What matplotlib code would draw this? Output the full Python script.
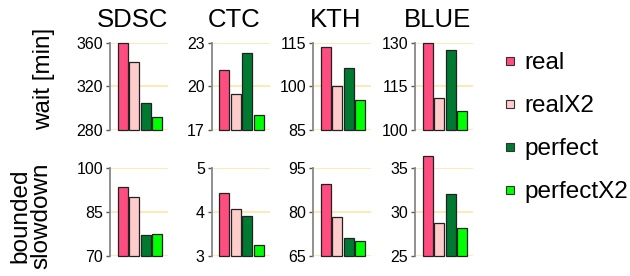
import matplotlib
matplotlib.use('Agg')
import matplotlib.pyplot as plt
from matplotlib.lines import Line2D

plt.rcParams['font.family'] = ['Liberation Sans', 'DejaVu Sans']

sites = ['SDSC', 'CTC', 'KTH', 'BLUE']
series = ['real', 'realX2', 'perfect', 'perfectX2']
colors = ['#FF4D80', '#FFCCCC', '#007A30', '#00FF00']

# wait [min], one list per site: real, realX2, perfect, perfectX2
wait_sdsc = [359.5, 342.6, 305.0, 292.2]
wait_ctc = [21.1, 19.45, 22.27, 18.0]
wait_kth = [113.4, 100.2, 106.2, 95.3]
wait_blue = [130.0, 110.9, 127.4, 106.4]

# bounded slowdown
bsld_sdsc = [93.3, 90.0, 77.1, 77.4]
bsld_ctc = [4.43, 4.07, 3.90, 3.24]
bsld_kth = [89.4, 78.1, 70.9, 70.1]
bsld_blue = [36.3, 28.7, 32.0, 28.1]

wait_ticks = [[280, 320, 360], [17, 20, 23], [85, 100, 115], [100, 115, 130]]
bsld_ticks = [[70, 85, 100], [3, 4, 5], [65, 80, 95], [25, 30, 35]]

rows = [
    ([wait_sdsc, wait_ctc, wait_kth, wait_blue], wait_ticks),
    ([bsld_sdsc, bsld_ctc, bsld_kth, bsld_blue], bsld_ticks),
]

W, H = 630, 276
fig = plt.figure(figsize=(W / 100, H / 100), dpi=100)

lefts = [110, 211.7, 313.3, 415]
aw = 58
row_box = [(42.7, 130), (167.7, 255.7)]  # top, bottom in px

for r, (vals, ticks) in enumerate(rows):
    top, bot = row_box[r]
    for c in range(4):
        ax = fig.add_axes([lefts[c] / W, (H - bot) / H, aw / W, (bot - top) / H])
        lo, hi = ticks[c][0], ticks[c][-1]
        v = vals[c]
        ax.bar(range(4), [x - lo for x in v], bottom=lo, width=0.87,
               color=colors, edgecolor='#222222', linewidth=0.9, clip_on=False, zorder=3)
        ax.set_ylim(lo, hi)
        ax.set_xlim(-1.1, 3.94)
        ax.set_yticks(ticks[c])
        ax.set_xticks([])
        for s in ['top', 'right', 'bottom']:
            ax.spines[s].set_visible(False)
        ax.spines['left'].set_color('#888888')
        ax.spines['left'].set_linewidth(1.3)
        ax.tick_params(axis='y', direction='out', length=3, width=1, color='#555555',
                       labelsize=11.5, pad=2)
        ax.yaxis.grid(True, color='#FFE9B8', linewidth=1.4)
        ax.set_axisbelow(True)
        ax.patch.set_alpha(0)
        if r == 0:
            fig.text((lefts[c] + aw / 2 - 6.5) / W, (H - 27) / H, sites[c],
                     ha='center', va='baseline', fontsize=18.5)

fig.text(44 / W, (H - 79) / H, 'wait [min]', rotation=90, ha='center', va='center', fontsize=17.5)
fig.text(31 / W, (H - 216) / H, 'bounded\nslowdown', rotation=90, ha='center', va='center',
         fontsize=17.5, linespacing=0.95)

handles = [Line2D([], [], marker='s', linestyle='none', markersize=6,
                  markerfacecolor=col, markeredgecolor='#333333', markeredgewidth=0.8)
           for col in colors]
fig.legend(handles, series, loc='upper left', bbox_to_anchor=(503 / W, (H - 52) / H),
           frameon=False, fontsize=17.5, handlelength=0.6, handletextpad=0.3,
           labelspacing=0.87, borderaxespad=0, borderpad=0)

fig.savefig('out.png', dpi=100)
